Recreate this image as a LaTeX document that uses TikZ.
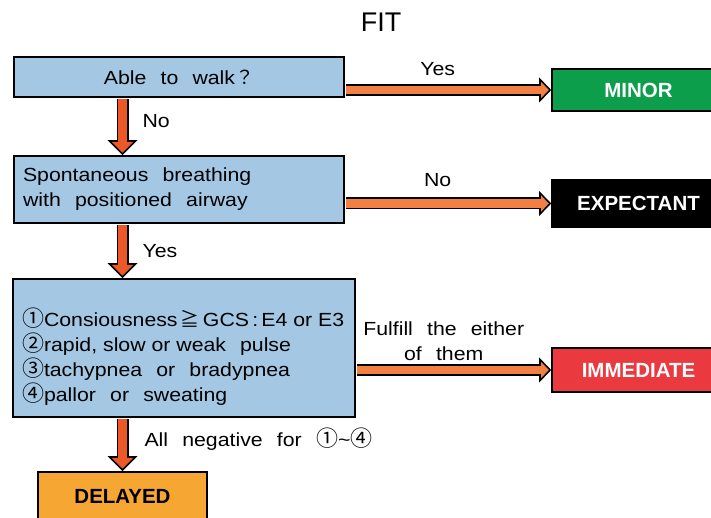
\documentclass[tikz,border=0pt]{standalone}
\usepackage{fontspec}
\setmainfont{Liberation Sans}[FakeStretch=1.12]
\newfontfamily\plain{Liberation Sans}
\newfontfamily\cjk{Noto Sans CJK JP}
\usetikzlibrary{arrows.meta}

\definecolor{boxblue}{RGB}{164,200,228}
\definecolor{hookorange}{RGB}{242,128,66}
\definecolor{droporange}{RGB}{236,88,40}
\definecolor{minorgreen}{RGB}{12,158,74}
\definecolor{immred}{RGB}{234,58,64}
\definecolor{delayorange}{RGB}{246,166,50}

\newcommand{\widespace}{\spaceskip=2.4\fontdimen2\font plus 1pt\relax}
\newcommand{\boxfont}{\fontsize{19}{25}\selectfont\widespace}
\newcommand{\tagfont}{\plain\bfseries\fontsize{20.5}{24}\selectfont}
\newcommand{\cn}[1]{{\cjk #1}}
\newcommand{\circnum}[1]{{\cjk\fontsize{22}{25}\selectfont #1}}
\newcommand{\narrow}[1]{{\spaceskip=0pt #1}}

\tikzset{
  qbox/.style={draw=black, line width=1.6pt, fill=boxblue, font=\boxfont,
    execute at begin node=\widespace, inner xsep=9pt, inner ysep=0pt},
  tagbox/.style={draw=black, line width=1.6pt, fill=#1, minimum width=173pt, font=\tagfont},
  lbl/.style={inner sep=2pt, font=\boxfont},
  hfat/.style={draw=black, line width=12pt, shorten <=1pt,
    -{Triangle[length=12pt,width=25pt,line width=0pt]},
    postaction={draw=hookorange, line width=8.5pt, shorten >=2.4pt,
      -{Triangle[length=7.8pt,width=16.3pt,line width=0pt]}}},
  vfat/.style={draw=black, line width=12pt, shorten <=1pt,
    -{Triangle[length=15pt,width=30pt,line width=0pt]},
    postaction={draw=droporange, line width=8.5pt, shorten >=2.5pt,
      -{Triangle[length=10.8pt,width=21.6pt,line width=0pt]}}}
}

\begin{document}
\begin{tikzpicture}[x=1pt,y=-1pt]
\useasboundingbox (0,0) rectangle (711,518);

\node[font=\plain\fontsize{27}{30}\selectfont] (title) at (381,22) {FIT};

% questions
\node[qbox, minimum width=330pt, minimum height=40pt] (walk) at (179,77) {Able to walk\cn{？}};
\node[qbox, text width=312pt, align=left, minimum height=67pt] (breath) at (179,189.5)
  {Spontaneous breathing\\with positioned airway};
\node[qbox, text width=324pt, align=left, minimum height=138pt] (signs) at (184,348)
  {\rule{0pt}{35pt}\narrow{\circnum{①}Consiousness\,\cn{≧}\,GCS\,:\,E4 or E3}\\
   \narrow{\circnum{②}rapid, slow or weak}\hspace{14pt}pulse\\
   \circnum{③}tachypnea or bradypnea\\
   \circnum{④}pallor or sweating};

% triage tags
\node[tagbox=minorgreen, minimum height=42pt, text=white] (minor) at (638.5,90) {MINOR};
\node[tagbox=black, minimum height=47pt, text=white] (expectant) at (638.5,203.5) {EXPECTANT};
\node[tagbox=immred, minimum height=44pt, text=white] (immediate) at (638.5,370) {IMMEDIATE};
\node[tagbox=delayorange, minimum width=169pt, minimum height=48pt] (delayed) at (122.5,496) {DELAYED};

% arrows
\draw[hfat] (walk.east |- minor) -- node[lbl, above=6pt, pos=0.45] {Yes} (minor.west);
\draw[hfat] (breath.east |- expectant) -- node[lbl, above=9pt, pos=0.45] {No} (expectant.west);
\draw[hfat] (signs.east |- immediate) -- node[lbl, above=1pt, pos=0.45, align=center]
  {Fulfill the either\\of them} (immediate.west);

\draw[vfat] (walk.south -| delayed) -- node[lbl, right=12pt, pos=0.4] {No} (breath.north -| delayed);
\draw[vfat] (breath.south -| delayed) -- node[lbl, right=12pt] {Yes} (signs.north -| delayed);
\draw[vfat] (signs.south -| delayed) -- node[lbl, right=14pt, pos=0.4]
  {All negative for \circnum{①}\textasciitilde\circnum{④}} (delayed.north);
\end{tikzpicture}
\end{document}
